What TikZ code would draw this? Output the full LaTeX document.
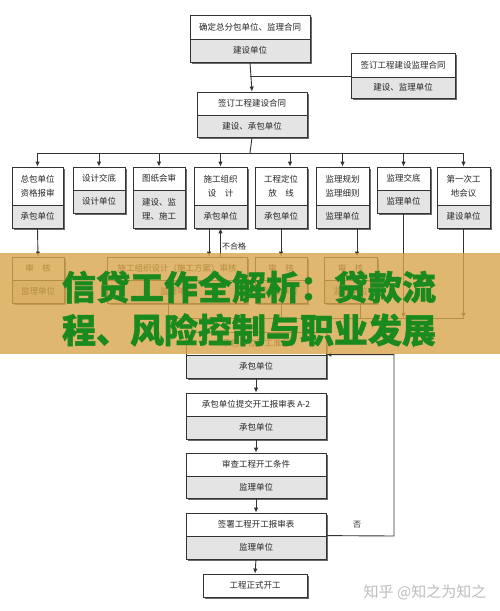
\documentclass[tikz,border=0pt]{standalone}
\usepackage{fontspec}
\setmainfont{Noto Sans CJK SC}
\newfontfamily\titlefont[BoldFeatures={FakeBold=1.2}]{Noto Sans CJK SC}
\usetikzlibrary{arrows.meta}
\definecolor{linec}{HTML}{333333}
\definecolor{graybox}{HTML}{E4E4E4}
\definecolor{shadowc}{HTML}{6A6A6A}
\definecolor{bannerc}{HTML}{D9A54A}
\definecolor{titlec}{HTML}{1A8A1E}
\definecolor{wmc}{HTML}{BDBDBD}
\tikzset{
 partbox/.style={draw=linec, line width=0.8pt, inner sep=0pt, align=center, font=\fontsize{8.5}{14}\selectfont, text=black!85},
 upper/.style={partbox, fill=white},
 lower/.style={partbox, fill=graybox},
 conn/.style={draw=linec, line width=0.9pt},
 arr/.style={conn, -{Latex[length=5pt,width=4.5pt]}},
 lbl/.style={font=\fontsize{8}{10}\selectfont, inner sep=1pt, text=black!85},
 titletext/.style={font=\titlefont\fontsize{34}{34}\bfseries\selectfont, text=titlec, inner sep=0pt},
}
\newcommand\twobox[8]{%
 \fill[shadowc] (#2+2,#4+2) rectangle (#3+2,#6+2);
 \node[upper, minimum width={#3-#2}, minimum height={#5-#4}] (#1t) at ({(#2+#3)/2},{(#4+#5)/2}) {#7};
 \node[lower, minimum width={#3-#2}, minimum height={#6-#5}] (#1b) at ({(#2+#3)/2},{(#5+#6)/2}) {#8};
}
\begin{document}
\begin{tikzpicture}[x=1pt,y=-1pt]
\useasboundingbox (0,0) rectangle (500,611);
\fill[white] (0,0) rectangle (500,611);
% top boxes
\twobox{P}{190}{310}{15}{39}{62}{确定总分包单位、监理合同}{建设单位}
\twobox{Q}{197}{307}{92}{115}{137}{签订工程建设合同}{建设、承包单位}
\twobox{R}{351}{455}{53}{77}{98}{签订工程建设监理合同}{建设、监理单位}
% row of eight
\twobox{A}{12}{63}{167}{205}{228}{总包单位\\资格报审}{承包单位}
\twobox{B}{73}{125}{167}{190}{213}{设计交底}{设计单位}
\twobox{C}{133}{185}{167}{190}{228}{图纸会审}{建设、监\\理、施工}
\twobox{D}{194}{247}{167}{205}{228}{施工组织\\设\quad 计}{承包单位}
\twobox{E}{255}{307}{167}{205}{228}{工程定位\\放\quad 线}{承包单位}
\twobox{F}{316}{369}{167}{205}{228}{监理规划\\监理细则}{监理单位}
\twobox{G}{377}{430}{167}{190}{213}{监理交底}{监理单位}
\twobox{H}{437}{490}{167}{205}{228}{第一次工\\地会议}{建设单位}
% second row
\twobox{AA}{12}{64}{257}{280}{303}{审\quad 核}{监理单位}
\twobox{DD}{107}{247}{257}{280}{303}{施工组织设计（施工方案）审核}{监理单位}
\twobox{EE}{255}{307}{257}{280}{303}{审\quad 核}{监理单位}
\twobox{FF}{324}{377}{257}{280}{303}{审\quad 核}{监理单位}
% main column
\twobox{M}{186}{326}{332}{355}{378}{承包单位开工准备}{承包单位}
\twobox{N}{186}{326}{393}{416}{439}{承包单位提交开工报审表 A-2}{承包单位}
\twobox{S}{186}{326}{453}{476}{498}{审查工程开工条件}{监理单位}
\twobox{T}{186}{326}{513}{536}{559}{签署工程开工报审表}{监理单位}
\fill[shadowc] (205,576) rectangle (309,599);
\node[upper, minimum width=104, minimum height=23] (U) at (255,585.5) {工程正式开工};
% connectors
\draw[arr] (Pb.south) -- (Qt.north);
\draw[conn] (Pb.south|-Rb.north) -- (Rb.north west);
\coordinate (bus) at (250,153);
\draw[conn] (Qb.south) -- (bus);
\draw[conn] (At.north|-bus) -- (Ht.north|-bus);
\foreach \n in {A,B,C,D,F,G,H} {\draw[arr] (\n t.north|-bus) -- (\n t.north);}
\draw[arr] ([xshift=9pt]Et.north|-bus) -- ([xshift=9pt]Et.north);
\draw[arr] (Ab.south) -- (AAt.north);
\draw[arr] ([xshift=-11.5pt]Db.south) -- ([xshift=-11.5pt]Db.south|-DDt.north);
\draw[arr] (Db.south|-DDt.north) -- (Db.south);
\node[lbl, anchor=west] (ng) at (221,246) {不合格};
\draw[arr] (Eb.south) -- (Eb.south|-EEt.north);
\draw[arr] ([xshift=14.5pt]Fb.south) -- ([xshift=14.5pt]Fb.south|-FFt.north);
\coordinate (col) at (256,318);
\draw[conn] ([xshift=-9pt]DDb.south) -- ([xshift=-9pt]DDb.south|-col);
\draw[conn] (EEb.south) -- (EEb.south|-col);
\draw[conn] ([xshift=9.5pt]FFb.south) -- ([xshift=9.5pt]FFb.south|-col);
\draw[arr] (Gb.south) -- (Gb.south|-col);
\draw[arr] (Hb.south) -- (Hb.south|-col);
\draw[conn] ([xshift=-9pt]DDb.south|-col) -- (Hb.south|-col);
\draw[arr] (col) -- (Mt.north);
\draw[arr] (Mb.south) -- (Nt.north);
\draw[arr] (Nb.south) -- (St.north);
\draw[arr] (Sb.south) -- (Tt.north);
\draw[arr] (Tb.south) -- (U.north);
\coordinate (loop) at (394,536);
\draw[arr] (Tb.north east) -- (loop) |- (Mb.north east);
\node[lbl] (no) at (357,525) {否};
% banner overlay
\fill[bannerc, opacity=0.8] (0,253) rectangle (500,354);
\node[titletext] (t1) at (249,287) {信贷工作全解析：贷款流};
\node[titletext] (t2) at (249,330) {程、风险控制与职业发展};
% watermark
\node[font=\fontsize{15}{15}\selectfont, text=wmc, inner sep=0pt] (wm) at (425,592) {知乎 @知之为知之};
\end{tikzpicture}
\end{document}
